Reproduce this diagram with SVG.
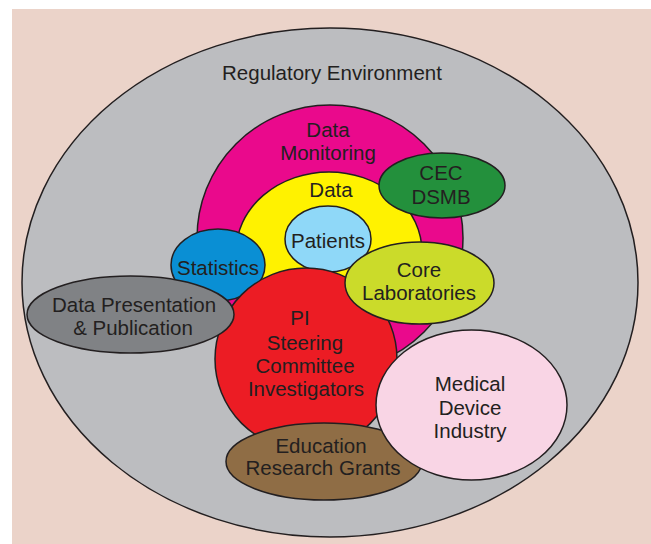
<svg xmlns="http://www.w3.org/2000/svg" width="651" height="544" viewBox="0 0 651 544">
  <style>
    .shape { stroke: #231f20; stroke-width: 1.5; }
    text { font-family: "Liberation Sans", "DejaVu Sans", sans-serif; font-size: 20.5px; fill: #231f20; text-anchor: middle; }
  </style>
  <rect x="12" y="9" width="639" height="535" fill="#ebd3c9"/>

  <g id="regulatory-environment">
    <ellipse class="shape" cx="330" cy="282.5" rx="308" ry="254.5" fill="#bcbdc0"/>
    <text x="332" y="80">Regulatory Environment</text>
  </g>

  <g id="data-monitoring">
    <circle class="shape" cx="330" cy="238" r="133" fill="#ea098c"/>
    <text x="328" y="137">Data</text>
    <text x="328" y="160">Monitoring</text>
  </g>

  <g id="data">
    <ellipse class="shape" cx="329" cy="252" rx="93" ry="80" fill="#fff200"/>
    <text x="331" y="197">Data</text>
  </g>

  <g id="patients">
    <ellipse class="shape" cx="328" cy="239" rx="43" ry="33" fill="#8fd8f8"/>
    <text x="328" y="248">Patients</text>
  </g>

  <g id="cec-dsmb">
    <ellipse class="shape" cx="442" cy="185.5" rx="63" ry="32.5" fill="#23903c"/>
    <text x="441" y="180">CEC</text>
    <text x="441" y="204">DSMB</text>
  </g>

  <g id="statistics">
    <ellipse class="shape" cx="218" cy="265" rx="47" ry="36" fill="#0a8fd4"/>
    <text x="218" y="275">Statistics</text>
  </g>

  <g id="pi-steering-committee">
    <circle class="shape" cx="306" cy="359" r="91" fill="#ec1c24"/>
    <text x="300" y="325">PI</text>
    <text x="305" y="350">Steering</text>
    <text x="305" y="373">Committee</text>
    <text x="306" y="396">Investigators</text>
  </g>

  <g id="data-presentation">
    <ellipse class="shape" cx="130.5" cy="314.5" rx="103.5" ry="38.5" fill="#808285"/>
    <text x="134" y="312">Data Presentation</text>
    <text x="133" y="335">&amp; Publication</text>
  </g>

  <g id="core-laboratories">
    <ellipse class="shape" cx="419.5" cy="283" rx="74.5" ry="41" fill="#cbdb2a"/>
    <text x="419" y="277">Core</text>
    <text x="419" y="300">Laboratories</text>
  </g>

  <g id="education">
    <ellipse class="shape" cx="324" cy="461.5" rx="98" ry="38.5" fill="#8f6d45"/>
    <text x="321" y="453">Education</text>
    <text x="323" y="475">Research Grants</text>
  </g>

  <g id="medical-device-industry">
    <ellipse class="shape" cx="471.5" cy="405" rx="95.5" ry="75" fill="#f9d5e5"/>
    <text x="470" y="391">Medical</text>
    <text x="470" y="415">Device</text>
    <text x="470" y="438">Industry</text>
  </g>

  <g id="connectors"/>
</svg>
